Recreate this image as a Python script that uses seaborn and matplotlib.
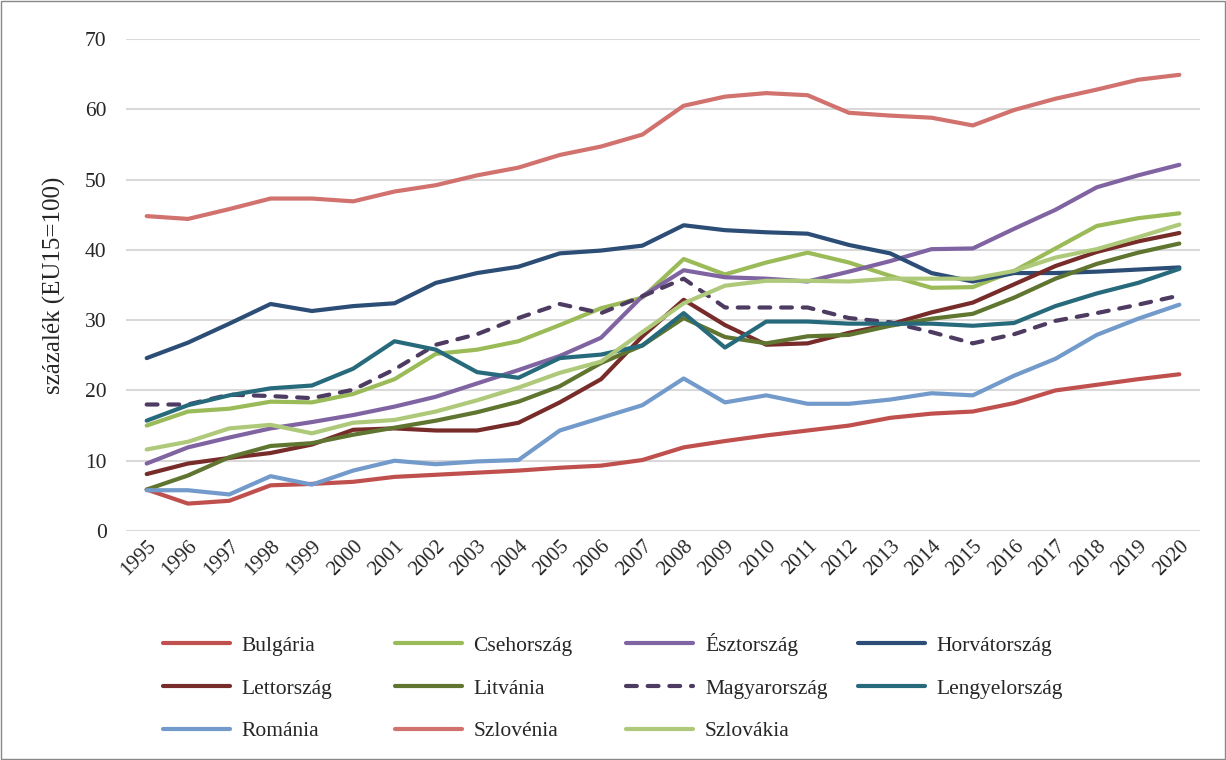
"""
Egy főre jutó GDP az EU15 százalékában, 1995-2020 - vonaldiagram.
"""

import matplotlib
matplotlib.use("Agg")
import matplotlib.pyplot as plt
import seaborn as sns
import pandas as pd

# Adatok (leolvasva az ábráról)
years = list(range(1995, 2021))

bulgaria = [5.9, 3.9, 4.3, 6.5, 6.7, 7.0, 7.7, 8.0, 8.3, 8.6, 9.0, 9.3, 10.1,
            11.9, 12.8, 13.6, 14.3, 15.0, 16.1, 16.7, 17.0, 18.2, 20.0, 20.8, 21.6, 22.3]
csehorszag = [15.0, 17.0, 17.4, 18.4, 18.3, 19.5, 21.6, 25.2, 25.8, 27.0, 29.3, 31.7, 33.2,
              38.7, 36.5, 38.2, 39.6, 38.2, 36.3, 34.6, 34.7, 37.0, 40.2, 43.4, 44.5, 45.2]
esztorszag = [9.6, 11.9, 13.3, 14.6, 15.5, 16.5, 17.7, 19.1, 21.0, 22.9, 24.9, 27.5, 33.4,
              37.1, 36.1, 35.9, 35.5, 36.9, 38.4, 40.1, 40.2, 43.0, 45.7, 48.9, 50.6, 52.1]
horvatorszag = [24.6, 26.8, 29.5, 32.3, 31.3, 32.0, 32.4, 35.3, 36.7, 37.6, 39.5, 39.9, 40.6,
                43.5, 42.8, 42.5, 42.3, 40.7, 39.5, 36.7, 35.5, 36.7, 36.7, 36.9, 37.2, 37.5]
lettorszag = [8.1, 9.6, 10.4, 11.1, 12.3, 14.4, 14.6, 14.3, 14.3, 15.4, 18.3, 21.6, 27.7,
              32.9, 29.3, 26.5, 26.7, 28.2, 29.4, 31.1, 32.5, 35.1, 37.7, 39.7, 41.2, 42.4]
litvania = [5.9, 7.9, 10.5, 12.1, 12.5, 13.7, 14.7, 15.7, 16.9, 18.4, 20.6, 23.9, 26.4,
            30.3, 27.6, 26.7, 27.7, 27.9, 29.2, 30.2, 30.9, 33.2, 35.9, 38.0, 39.6, 40.9]
magyarorszag = [18.0, 18.0, 19.4, 19.2, 18.9, 20.1, 23.0, 26.5, 28.0, 30.3, 32.3, 31.0, 33.4,
                35.9, 31.8, 31.8, 31.8, 30.3, 29.7, 28.3, 26.7, 28.0, 29.9, 31.0, 32.2, 33.5]
lengyelorszag = [15.7, 17.9, 19.3, 20.3, 20.7, 23.1, 27.0, 25.8, 22.6, 21.8, 24.6, 25.1, 26.4,
                 31.0, 26.1, 29.8, 29.8, 29.5, 29.5, 29.5, 29.2, 29.6, 32.0, 33.8, 35.3, 37.3]
romania = [5.8, 5.8, 5.2, 7.8, 6.6, 8.6, 10.0, 9.5, 9.9, 10.1, 14.3, 16.1, 17.9,
           21.7, 18.3, 19.3, 18.1, 18.1, 18.7, 19.6, 19.3, 22.1, 24.5, 27.9, 30.2, 32.2]
szlovenia = [44.8, 44.4, 45.8, 47.3, 47.3, 46.9, 48.3, 49.2, 50.6, 51.7, 53.5, 54.7, 56.4,
             60.5, 61.8, 62.3, 62.0, 59.5, 59.1, 58.8, 57.7, 59.9, 61.5, 62.8, 64.2, 64.9]
szlovakia = [11.6, 12.7, 14.6, 15.1, 13.9, 15.4, 15.8, 17.0, 18.6, 20.4, 22.5, 24.1, 28.3,
             32.4, 34.9, 35.6, 35.6, 35.5, 35.9, 35.9, 35.9, 37.0, 38.9, 40.1, 41.8, 43.6]

countries = ["Bulgária", "Csehország", "Észtország", "Horvátország", "Lettország",
             "Litvánia", "Magyarország", "Lengyelország", "Románia", "Szlovénia", "Szlovákia"]
series = [bulgaria, csehorszag, esztorszag, horvatorszag, lettorszag, litvania,
          magyarorszag, lengyelorszag, romania, szlovenia, szlovakia]
colors = ["#c0504d", "#9bbb59", "#8064a2", "#2c4d75", "#772c2a", "#5f7530",
          "#4d3b62", "#276a7c", "#729aca", "#d1726f", "#afc97a"]

sns.set_style("white")
plt.rcParams["font.family"] = ["Liberation Serif", "DejaVu Serif"]

fig = plt.figure(figsize=(12.26, 7.6), dpi=100)
ax = fig.add_axes([0.1028, 0.3013, 0.8760, 0.6474])

for name, vals, col in zip(countries, series, colors):
    df = pd.DataFrame({"ev": years, "ertek": vals})
    sns.lineplot(data=df, x="ev", y="ertek", color=col, linewidth=3,
                 ax=ax, label=name)
    l = ax.lines[-1]
    l.set_solid_capstyle("round")
    if name == "Magyarország":
        l.set_dashes((2.6, 2.6))
        l.set_dash_capstyle("round")

ax.get_legend().remove()

ax.set_xlim(1994.5, 2020.5)
ax.set_ylim(0, 70)
ax.set_yticks(range(0, 71, 10))
ax.set_xticks(years)
ax.set_xticklabels([str(y) for y in years], rotation=45, ha="right",
                   rotation_mode="anchor", fontsize=15)
ax.tick_params(axis="y", labelsize=15.5, length=0, pad=14)
ax.tick_params(axis="x", length=0, pad=4)
ax.grid(axis="y", color="#d9d9d9", linewidth=1.5)
ax.set_axisbelow(True)
for s in ax.spines.values():
    s.set_visible(False)
ax.set_xlabel("")
ax.set_ylabel("százalék (EU15=100)", fontsize=18, labelpad=14)

# Jelmagyarázat: minden bejegyzés a saját helyén (4 oszlop, 3 sor)
handles = ax.lines
col_x = [0.133, 0.322, 0.511, 0.700]
row_y = [0.1375, 0.0809, 0.0244]
for i, name in enumerate(countries):
    fig.legend([handles[i]], [name], loc="lower left",
               bbox_to_anchor=(col_x[i % 4], row_y[i // 4]),
               frameon=False, fontsize=15.5, handlelength=3.1, handletextpad=0.55,
               borderpad=0, borderaxespad=0)

# Külső keret
fig.patches.append(plt.Rectangle((0.001, 0.001), 0.998, 0.998, transform=fig.transFigure,
                                 fill=False, edgecolor="#888888", linewidth=1))

plt.savefig("out.png", dpi=100)
plt.close()
